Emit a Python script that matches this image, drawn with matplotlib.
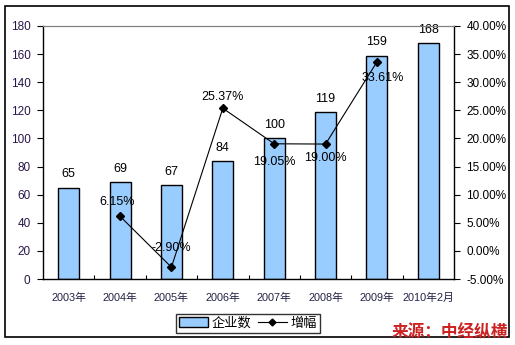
import matplotlib
matplotlib.use("Agg")
import matplotlib.pyplot as plt
from matplotlib.patches import Rectangle, Patch
from matplotlib.lines import Line2D

plt.rcParams["font.family"] = ["Liberation Sans", "Noto Sans CJK SC", "DejaVu Sans"]

years = ["2003年", "2004年", "2005年", "2006年", "2007年", "2008年", "2009年", "2010年2月"]
companies = [65, 69, 67, 84, 100, 119, 159, 168]
growth_idx = [1, 2, 3, 4, 5, 6]
growth = [6.15, -2.90, 25.37, 19.05, 19.00, 33.61]

BAR = "#99CCFF"
# label offsets (points) for the growth labels
growth_off = [(-2, 10), (0, 14), (0, 8), (0, -13), (0, -10), (4, -11.5)]

fig = plt.figure(figsize=(5.15, 3.45), dpi=100)
fig.patch.set_facecolor("white")
ax = fig.add_axes([43 / 515, 1 - 279 / 345, 411 / 515, 253 / 345])
ax2 = ax.twinx()

x = list(range(len(years)))
ax.bar(x, companies, width=0.41, color=BAR, edgecolor="black", linewidth=1.0, zorder=2)
for xi, v in zip(x, companies):
    ax.annotate(str(v), (xi, v), xytext=(0, 9.5), textcoords="offset points",
                ha="center", va="center", fontsize=9)

ax.set_xlim(-0.5, len(years) - 0.5)
ax.set_ylim(0, 180)
ax.set_yticks(range(0, 181, 20))
ax.set_xticks(x)
ax.set_xticklabels(years, fontsize=7.8, color="#222244")
ax.set_xticks([i + 0.5 for i in x[:-1]], minor=True)
ax.tick_params(axis="x", which="major", length=0, pad=10)
ax.tick_params(axis="x", which="minor", direction="in", length=3, width=0.8)
ax.tick_params(axis="y", direction="out", length=4, width=0.8, labelsize=8.5,
               labelcolor="#2a1648", pad=5)
for s in ("left", "bottom"):
    ax.spines[s].set_linewidth(1.0)
ax.spines["top"].set_color("#808080")
ax.spines["right"].set_visible(False)

ax2.plot(growth_idx, growth, color="black", linewidth=0.8, marker="D", markersize=4, zorder=3)
for xi, v, (dx, dy) in zip(growth_idx, growth, growth_off):
    ax2.annotate(f"{v:.2f}%", (xi, v), xytext=(dx, dy), textcoords="offset points",
                 ha="center", va="center", fontsize=9)
ax2.set_ylim(-5, 40)
ax2.set_yticks(range(-5, 41, 5))
ax2.set_yticklabels([f"{t:.2f}%" for t in range(-5, 41, 5)])
ax2.tick_params(axis="y", direction="out", length=4, width=0.8, labelsize=8.5, pad=5)
ax2.spines["top"].set_color("#808080")
ax2.spines["right"].set_linewidth(1.0)
ax2.spines["left"].set_visible(False)
ax2.spines["bottom"].set_visible(False)

handles = [Patch(facecolor=BAR, edgecolor="black", linewidth=1.0),
           Line2D([], [], color="black", linewidth=0.8, marker="D", markersize=3.5)]
leg = fig.legend(handles, ["企业数", "增幅"], loc="center", ncol=2,
                 bbox_to_anchor=(248 / 515, 1 - 323.5 / 345), fontsize=9.5,
                 frameon=True, fancybox=False, edgecolor="black", handlelength=2.2,
                 handletextpad=0.25, columnspacing=0.5, borderpad=0.25)
leg.get_frame().set_linewidth(1.0)

fig.patches.append(Rectangle((5 / 515, 1 - 337 / 345), 504 / 515, 331 / 345,
                             transform=fig.transFigure, fill=False, edgecolor="black",
                             linewidth=1.2))
fig.text(508 / 515, 1 - 332 / 345, "来源：中经纵横", color="#CC2222", fontsize=12,
         fontweight="bold", ha="right", va="center",
         family=["Noto Sans CJK SC", "DejaVu Sans"])

fig.savefig("out.png", dpi=100)
